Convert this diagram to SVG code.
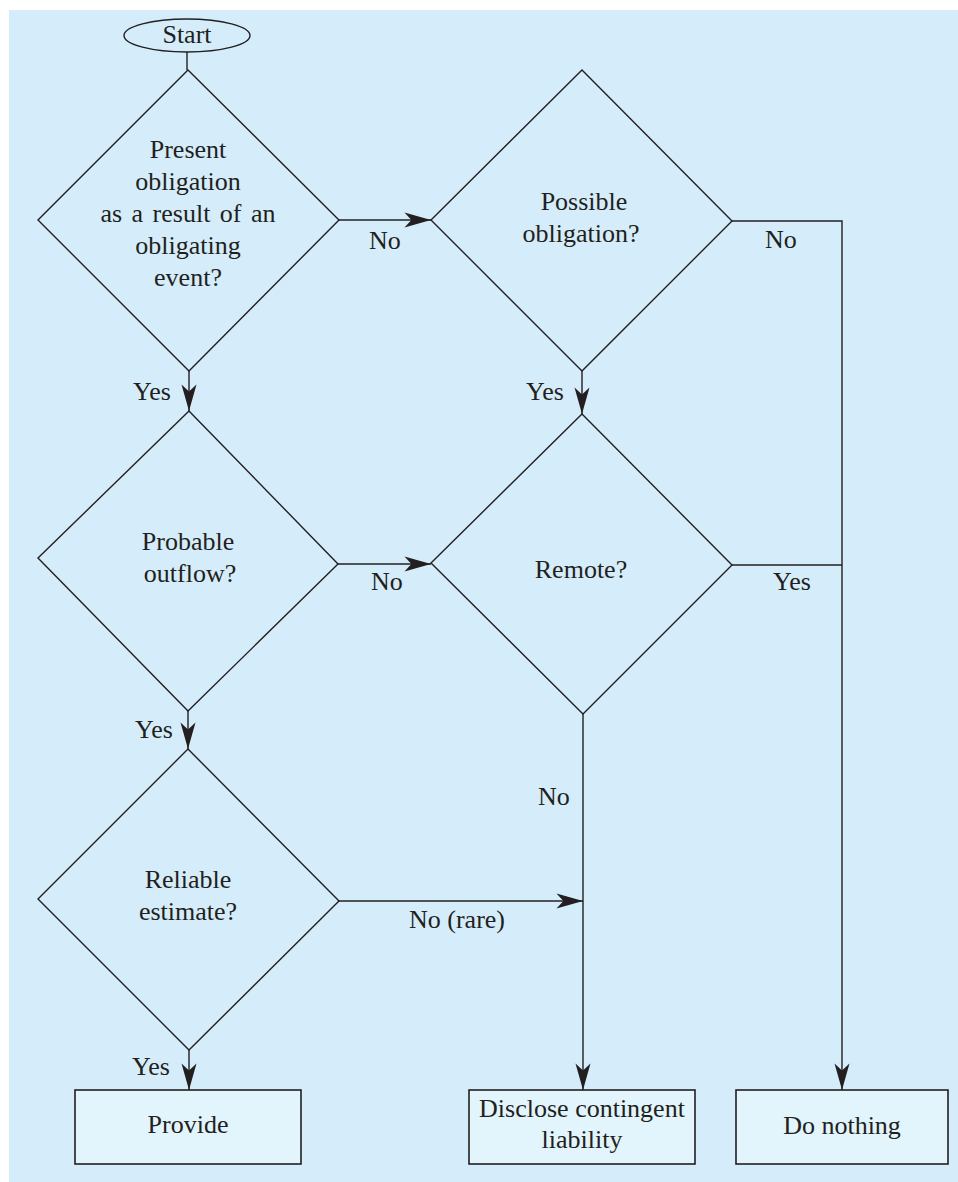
<svg xmlns="http://www.w3.org/2000/svg" width="958" height="1182" viewBox="0 0 958 1182">
<style>
.bg{fill:#d5edfa}
.shape{fill:#d5edfa;stroke:#231f20;stroke-width:1.4}
.box{fill:#e2f4fc;stroke:#231f20;stroke-width:1.6}
.conn{fill:none;stroke:#231f20;stroke-width:1.4}
text{font-family:"Liberation Serif","Times New Roman",serif;font-size:26px;fill:#231f20}
.c{text-anchor:middle}
</style>
<defs>
<marker id="ah" markerUnits="userSpaceOnUse" markerWidth="30" markerHeight="20" viewBox="-24 -8 26 16" refX="0" refY="0" orient="auto">
<path d="M0,0 L-23,-6.5 L-17,0 L-23,6.5 Z" fill="#231f20"/>
</marker>
</defs>
<rect class="bg" x="9" y="10" width="949" height="1172"/>

<g id="connectors">
<line class="conn" x1="187" y1="52" x2="187" y2="70"/>
<line class="conn" x1="339" y1="220" x2="431" y2="220" marker-end="url(#ah)"/>
<line class="conn" x1="189" y1="371" x2="189" y2="411" marker-end="url(#ah)"/>
<line class="conn" x1="582" y1="371" x2="582" y2="414" marker-end="url(#ah)"/>
<polyline class="conn" points="732,221 842,221 842,1090" marker-end="url(#ah)"/>
<line class="conn" x1="338" y1="564" x2="431" y2="564" marker-end="url(#ah)"/>
<line class="conn" x1="732" y1="565" x2="842" y2="565"/>
<line class="conn" x1="583" y1="714" x2="583" y2="1090" marker-end="url(#ah)"/>
<line class="conn" x1="188" y1="711" x2="188" y2="749" marker-end="url(#ah)"/>
<line class="conn" x1="339" y1="901" x2="583" y2="901" marker-end="url(#ah)"/>
<line class="conn" x1="189" y1="1050" x2="189" y2="1090" marker-end="url(#ah)"/>
<text x="369" y="249">No</text>
<text x="765" y="248">No</text>
<text x="133" y="400">Yes</text>
<text x="526" y="400">Yes</text>
<text x="371" y="590">No</text>
<text x="773" y="590">Yes</text>
<text x="135" y="738">Yes</text>
<text x="538" y="805">No</text>
<text x="409" y="928">No (rare)</text>
<text x="132" y="1075">Yes</text>
</g>

<g id="start">
<ellipse class="shape" cx="187" cy="35.5" rx="63" ry="16.5"/>
<text class="c" x="187" y="43">Start</text>
</g>

<g id="present-obligation">
<polygon class="shape" points="188,70 339,220 189,371 38,220"/>
<text class="c" x="188" y="158">Present</text>
<text class="c" x="188" y="190">obligation</text>
<text class="c" x="188" y="222" word-spacing="3">as a result of an</text>
<text class="c" x="188" y="254">obligating</text>
<text class="c" x="188" y="286">event?</text>
</g>

<g id="possible-obligation">
<polygon class="shape" points="582,70 732,221 582,371 431,220"/>
<text class="c" x="584" y="210">Possible</text>
<text class="c" x="581" y="242">obligation?</text>
</g>

<g id="probable-outflow">
<polygon class="shape" points="189,411 338,564 188,711 38,558"/>
<text class="c" x="188" y="550">Probable</text>
<text class="c" x="190" y="582">outflow?</text>
</g>

<g id="remote">
<polygon class="shape" points="582,414 732,565 583,714 431,563"/>
<text class="c" x="581" y="578">Remote?</text>
</g>

<g id="reliable-estimate">
<polygon class="shape" points="188,749 339,901 189,1050 38,899"/>
<text class="c" x="188" y="888">Reliable</text>
<text class="c" x="188" y="920">estimate?</text>
</g>

<g id="provide">
<rect class="box" x="75" y="1090" width="226" height="74"/>
<text class="c" x="188" y="1133">Provide</text>
</g>

<g id="disclose">
<rect class="box" x="469" y="1090" width="226" height="74"/>
<text class="c" x="582" y="1117">Disclose contingent</text>
<text class="c" x="582" y="1148">liability</text>
</g>

<g id="do-nothing">
<rect class="box" x="736" y="1090" width="212" height="74"/>
<text class="c" x="842" y="1134">Do nothing</text>
</g>
</svg>
